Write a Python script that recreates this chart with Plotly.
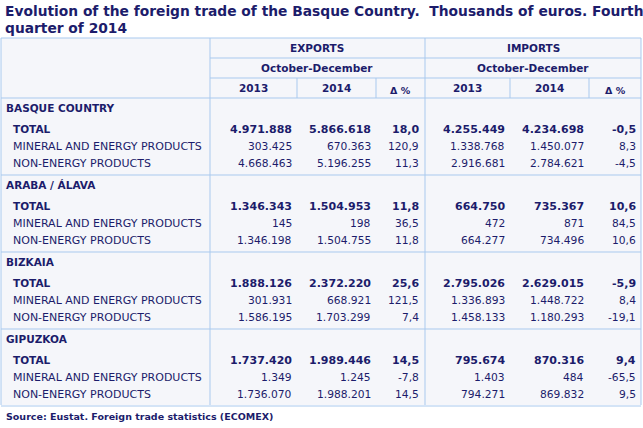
import plotly.graph_objects as go

title_lines = ["Evolution of the foreign trade of the Basque Country.  Thousands of euros. Fourth", "quarter of 2014"]
source = "Source: Eustat. Foreign trade statistics (ECOMEX)"
regions = ["BASQUE COUNTRY", "ARABA / ÁLAVA", "BIZKAIA", "GIPUZKOA"]
row_labels = ["TOTAL", "MINERAL AND ENERGY PRODUCTS", "NON-ENERGY PRODUCTS"]
col_years = ["2013", "2014", "Δ %", "2013", "2014", "Δ %"]
values = [
    [["4.971.888", "5.866.618", "18,0", "4.255.449", "4.234.698", "-0,5"],
     ["303.425", "670.363", "120,9", "1.338.768", "1.450.077", "8,3"],
     ["4.668.463", "5.196.255", "11,3", "2.916.681", "2.784.621", "-4,5"]],
    [["1.346.343", "1.504.953", "11,8", "664.750", "735.367", "10,6"],
     ["145", "198", "36,5", "472", "871", "84,5"],
     ["1.346.198", "1.504.755", "11,8", "664.277", "734.496", "10,6"]],
    [["1.888.126", "2.372.220", "25,6", "2.795.026", "2.629.015", "-5,9"],
     ["301.931", "668.921", "121,5", "1.336.893", "1.448.722", "8,4"],
     ["1.586.195", "1.703.299", "7,4", "1.458.133", "1.180.293", "-19,1"]],
    [["1.737.420", "1.989.446", "14,5", "795.674", "870.316", "9,4"],
     ["1.349", "1.245", "-7,8", "1.403", "484", "-65,5"],
     ["1.736.070", "1.988.201", "14,5", "794.271", "869.832", "9,5"]],
]

C = "#1c1c6b"
LINE = "#a9c9ee"
F = "DejaVu Sans"
col_lines = [210, 297, 376, 425, 510, 589, 641]
col_right = [294, 373, 421, 507, 586, 638]

fig = go.Figure()
shapes = []
ann = []

def t(x, y, s, size=10.7, bold=False, anchor="left"):
    ann.append(dict(x=x, y=y, text=f"<b>{s}</b>" if bold else s, showarrow=False,
                    xanchor=anchor, yanchor="middle", font=dict(family=F, size=size, color=C)))

def ln(x0, y0, x1, y1):
    shapes.append(dict(type="line", x0=x0, y0=y0, x1=x1, y1=y1, line=dict(color=LINE, width=1)))

shapes.append(dict(type="rect", x0=1, y0=38, x1=641, y1=405, fillcolor="#f5f6fa", line=dict(width=0), layer="below"))
t(3, 11, title_lines[0], size=13.8, bold=True)
t(3, 28, title_lines[1], size=13.8, bold=True)

ln(1, 38, 641, 38)
ln(210, 58, 641, 58)
ln(210, 78, 641, 78)
ln(1, 98, 641, 98)
for x in [1, 210, 425, 641]:
    ln(x, 38, x, 405)
for x in [297, 376, 510, 589]:
    ln(x, 78, x, 98)

t(317, 48, "EXPORTS", size=10.5, bold=True, anchor="center")
t(533, 48, "IMPORTS", size=10.5, bold=True, anchor="center")
t(317, 68, "October-December", size=10.5, bold=True, anchor="center")
t(533, 68, "October-December", size=10.5, bold=True, anchor="center")
for i, y in enumerate(col_years):
    c = (col_lines[i] + col_lines[i + 1]) / 2
    t(c, 88 if "Δ" not in y else 90, y, size=10.5 if "Δ" not in y else 9.5, bold=True, anchor="center")

y0 = 108
for r, reg in enumerate(regions):
    base = y0 + r * 77
    t(4, base, reg, size=10.5, bold=True)
    for k, lab in enumerate(row_labels):
        y = base + 21 + k * 17
        t(11, y, lab, size=10.5 if k == 0 else 11, bold=(k == 0))
        for j, v in enumerate(values[r][k]):
            t(col_right[j], y, v, size=11 if k == 0 else 10.7, bold=(k == 0), anchor="right")
    ln(1, base + 67, 641, base + 67)

t(4, 416, "<b>" + source + "</b>", size=9.5)

fig.update_layout(width=643, height=428, margin=dict(l=0, r=0, t=0, b=0),
                  paper_bgcolor="white", plot_bgcolor="white",
                  xaxis=dict(range=[0, 643], visible=False, fixedrange=True),
                  yaxis=dict(range=[428, 0], visible=False, fixedrange=True),
                  shapes=shapes, annotations=ann, showlegend=False)
fig.write_html("out.html", config={"displayModeBar": False})
with open("out.html", encoding="utf-8") as fh:
    html = fh.read()
html = html.replace("<body>", '<body style="margin:0;overflow:hidden">', 1)
with open("out.html", "w", encoding="utf-8") as fh:
    fh.write(html)
